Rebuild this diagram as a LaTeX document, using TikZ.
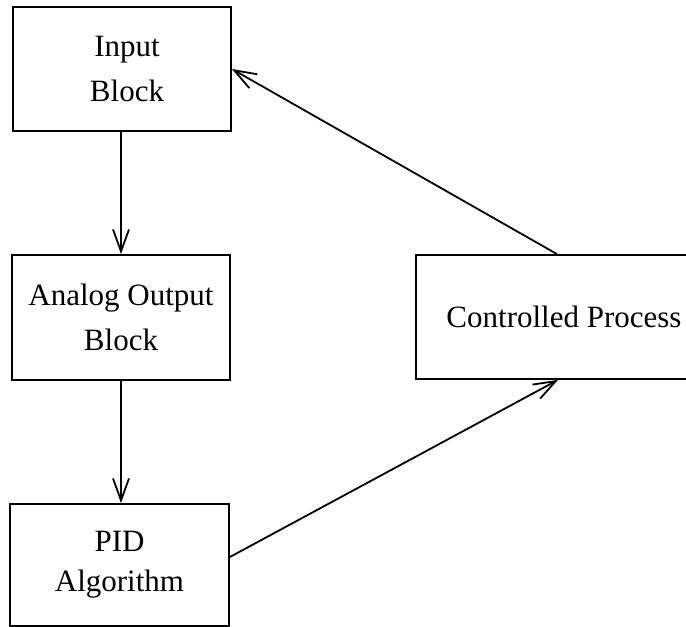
\documentclass[tikz,border=0pt]{standalone}
\usepackage{fontspec}
\setmainfont{Liberation Serif}
\usetikzlibrary{arrows.meta}
\begin{document}
\begin{tikzpicture}[x=1pt,y=-1pt,
  blk/.style={draw, line width=1.8pt, rectangle, align=center, inner sep=0pt,
    font=\fontsize{31}{45}\selectfont},
  conn/.style={line width=1.8pt, -{Straight Barb[length=22pt,width=16pt,line width=1.8pt]}}]
\useasboundingbox (0,0) rectangle (686,627);
\node[blk, minimum width=218pt, minimum height=124pt] (in) at (122,69) {\hspace*{10pt}Input\\\hspace*{10pt}Block};
\node[blk, minimum width=218pt, minimum height=125pt] (ao) at (121,317.5) {Analog Output\\Block};
\node[blk, minimum width=219pt, minimum height=122pt] (pid) at (119.5,565) {PID\\[-5pt]Algorithm};
\node[blk, minimum width=296pt, minimum height=124pt] (cp) at (564,317) {Controlled Process};
\draw[conn] (in.south -| ao.north) -- (ao.north);
\draw[conn] (ao.south) -- (ao.south |- pid.north);
\draw[conn] ([yshift=8pt]pid.east) -- ([xshift=-6pt]cp.south);
\draw[conn] ([xshift=-7pt]cp.north) -- (in.east);
\end{tikzpicture}
\end{document}
